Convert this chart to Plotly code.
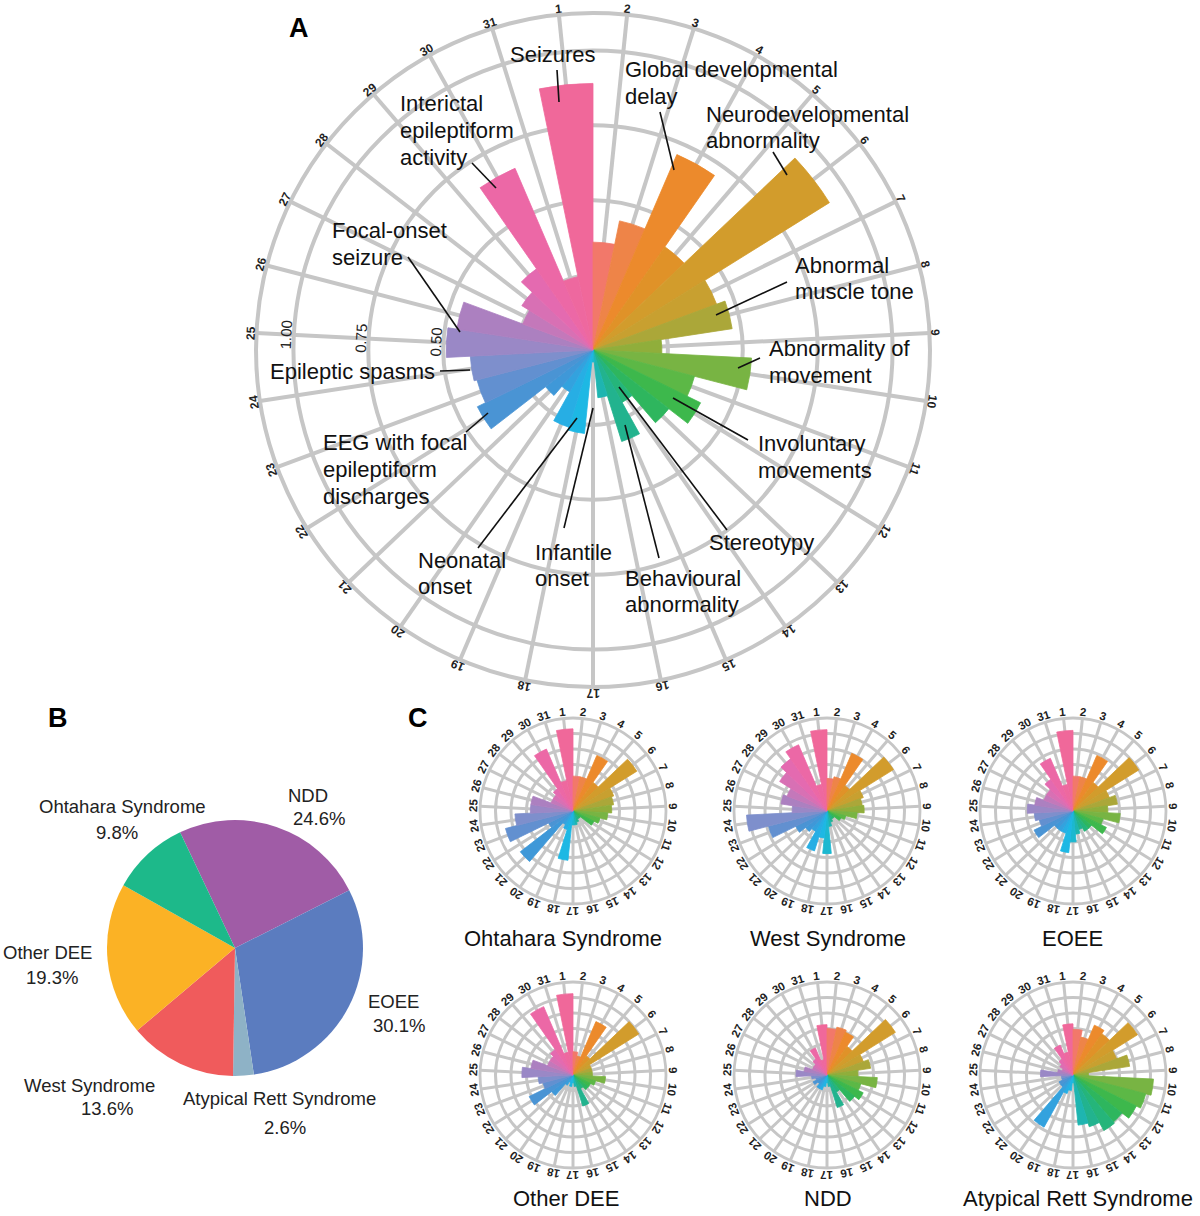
import math
import plotly.graph_objects as go

W, H = 1200, 1216
FONT = "Liberation Sans, Arial, sans-serif"

# ---------------- data ----------------
categories = [str(i) for i in range(1, 32)]

main_values = [0.89, 0.36, 0.44, 0.71, 0.42, 0.93, 0.44, 0.47, 0.23, 0.53,
               0.35, 0.40, 0.32, 0.20, 0.32, 0.16, 0.04, 0.28, 0.27, 0.16,
               0.20, 0.43, 0.40, 0.41, 0.49, 0.46, 0.25, 0.28, 0.33, 0.66, 0.25]
main_radial_ticks = [0.25, 0.50, 0.75, 1.00]
main_radial_labels = ["", "0.50", "0.75", "1.00"]

ohtahara_values = [1.06, 0.45, 0.45, 0.78, 0.45, 0.97, 0.56, 0.53, 0.50, 0.45,
                   0.36, 0.30, 0.12, 0.12, 0.15, 0.18, 0.18, 0.64, 0.25, 0.20,
                   0.86, 0.35, 0.90, 0.75, 0.55, 0.55, 0.30, 0.30, 0.35, 0.87, 0.40]
west_values = [1.05, 0.42, 0.45, 0.81, 0.40, 1.01, 0.50, 0.46, 0.48, 0.39,
               0.25, 0.20, 0.12, 0.12, 0.15, 0.20, 0.55, 0.35, 0.54, 0.30,
               0.35, 0.45, 0.78, 1.04, 0.45, 0.60, 0.55, 0.72, 0.82, 0.93, 0.35]
eoee_values = [1.04, 0.45, 0.45, 0.78, 0.45, 1.00, 0.50, 0.58, 0.45, 0.61,
               0.40, 0.48, 0.30, 0.30, 0.25, 0.30, 0.40, 0.54, 0.30, 0.30,
               0.30, 0.56, 0.45, 0.50, 0.59, 0.50, 0.40, 0.40, 0.50, 0.74, 0.35]
other_dee_values = [1.05, 0.30, 0.25, 0.75, 0.30, 1.00, 0.25, 0.25, 0.25, 0.42,
                    0.30, 0.25, 0.25, 0.20, 0.42, 0.15, 0.10, 0.15, 0.10, 0.15,
                    0.35, 0.63, 0.40, 0.45, 0.66, 0.55, 0.35, 0.35, 0.40, 0.96, 0.30]
ndd_values = [0.65, 0.60, 0.63, 0.60, 0.45, 1.04, 0.50, 0.57, 0.40, 0.65,
              0.45, 0.52, 0.45, 0.25, 0.44, 0.15, 0.10, 0.15, 0.20, 0.20,
              0.15, 0.20, 0.15, 0.20, 0.40, 0.30, 0.20, 0.20, 0.25, 0.38, 0.20]
rett_values = [0.66, 0.59, 0.50, 0.70, 0.65, 0.98, 0.60, 0.74, 0.20, 1.04,
               0.97, 0.91, 0.80, 0.82, 0.70, 0.65, 0.10, 0.20, 0.25, 0.77,
               0.20, 0.20, 0.15, 0.15, 0.42, 0.20, 0.15, 0.20, 0.25, 0.42, 0.30]
small_radial_ticks = [0.2, 0.4, 0.6, 0.8, 1.0]

small_names = ["Ohtahara Syndrome", "West Syndrome", "EOEE",
               "Other DEE", "NDD", "Atypical Rett Syndrome"]

pie_labels = ["NDD", "EOEE", "Atypical Rett Syndrome", "West Syndrome",
              "Other DEE", "Ohtahara Syndrome"]
pie_values = [24.6, 30.1, 2.6, 13.6, 19.3, 9.8]
pie_colors = ["#A05CA6", "#5B7CBF", "#8EB2C6", "#F05B5C", "#FBB225", "#1DB98A"]

# colour of each category (hue wheel)
hue_colors = ["#F0689A", "#F2786A", "#EE8448", "#EC8A2C", "#E09228", "#D29C2C",
              "#C8A030", "#ABA739", "#90AE3B", "#78B443", "#5CB846", "#3DB84C",
              "#2EB65E", "#25B57A", "#22B38E", "#1EB5B0", "#1CB8D0", "#1DB8E4",
              "#27AEE4", "#33A2DE", "#3F98D8", "#4A94D4", "#6290D0", "#7E8FCC",
              "#9A88C6", "#AC80C0", "#C478BA", "#D870B4", "#E46AB0", "#EC68A6",
              "#EE689F"]

# ---------------- helpers ----------------
N = len(categories)
STEP = 360.0 / N
GRID = "#C6C6C6"


def px(x):
    return x / W


def py(y):
    return 1 - y / H


def polar_bars(values, subplot):
    return go.Barpolar(theta=[k * STEP for k in range(N)], r=values,
                       width=[STEP] * N,
                       marker=dict(color=hue_colors,
                                   line=dict(color=hue_colors, width=0.8)),
                       subplot=subplot, hoverinfo="skip", showlegend=False)


def polar_layout(cx, cy, R, rmax, rticks, gw):
    return dict(
        domain=dict(x=[px(cx - R), px(cx + R)], y=[py(cy + R), py(cy - R)]),
        bgcolor="white",
        bargap=0,
        angularaxis=dict(rotation=90 + STEP / 2, direction="clockwise",
                         tickmode="array",
                         tickvals=[k * STEP for k in range(N)],
                         showticklabels=False, ticks="",
                         showgrid=True, gridcolor=GRID, gridwidth=gw,
                         showline=True, linecolor=GRID, linewidth=gw),
        radialaxis=dict(range=[0, rmax], tickmode="array", tickvals=rticks,
                        showticklabels=False, ticks="", showline=False,
                        showgrid=True, gridcolor=GRID, gridwidth=gw),
    )


annotations = []
shapes = []


def text(x, y, s, size, xanchor="center", color="#111", angle=0, bold=False):
    annotations.append(dict(x=px(x), y=py(y), xref="paper", yref="paper",
                            text="<b>%s</b>" % s if bold else s, showarrow=False,
                            textangle=angle, xanchor=xanchor, yanchor="middle",
                            align="left", font=dict(family=FONT, size=size, color=color)))


def angular_labels(cx, cy, rl, size):
    for k, lab in enumerate(categories):
        phi = k * STEP - STEP / 2
        x = cx + rl * math.sin(math.radians(phi))
        y = cy - rl * math.cos(math.radians(phi))
        ang = phi if phi <= 180 else phi - 360
        text(x, y, lab, size, color="#222", angle=ang, bold=True)


# ---------------- figure ----------------
fig = go.Figure()
layout = dict(width=W, height=H, margin=dict(l=0, r=0, t=0, b=0),
              paper_bgcolor="white", plot_bgcolor="white", showlegend=False)

# main chart A
MCX, MCY, MR, MRMAX = 593, 350, 337, 1.125
fig.add_trace(polar_bars(main_values, "polar"))
layout["polar"] = polar_layout(MCX, MCY, MR, MRMAX, main_radial_ticks, 4)
angular_labels(MCX, MCY, 343, 12)

phi25 = 24 * STEP - STEP / 2
for v, lab in zip(main_radial_ticks, main_radial_labels):
    if not lab:
        continue
    rp = MR * v / MRMAX + 8
    text(MCX + rp * math.sin(math.radians(phi25)), MCY - rp * math.cos(math.radians(phi25)),
         lab, 15, color="#222", angle=phi25 - 360)

# small charts C
small_values = [ohtahara_values, west_values, eoee_values,
                other_dee_values, ndd_values, rett_values]
small_centers = [(573, 811), (827, 811), (1073, 811),
                 (573, 1075), (827, 1075), (1073, 1075)]
title_pos = [(563, 938), (828, 938), (1072, 938),
             (566, 1198), (828, 1198), (1078, 1198)]
SR, SRMAX = 93, 1.2
for i, (vals, (cx, cy), name, (tx, ty)) in enumerate(
        zip(small_values, small_centers, small_names, title_pos)):
    key = "polar%d" % (i + 2)
    fig.add_trace(polar_bars(vals, key))
    layout[key] = polar_layout(cx, cy, SR, SRMAX, small_radial_ticks, 2.8)
    angular_labels(cx, cy, 100, 11.5)
    text(tx, ty, name, 22)

# pie chart B
PCX, PCY, PR = 235, 948, 128
fig.add_trace(go.Pie(labels=pie_labels, values=pie_values, sort=False,
                     direction="clockwise", rotation=-25.4,
                     marker=dict(colors=pie_colors, line=dict(width=0)),
                     textinfo="none", hoverinfo="label+percent",
                     domain=dict(x=[px(PCX - PR), px(PCX + PR)],
                                 y=[py(PCY + PR), py(PCY - PR)])))

pie_name_pos = {"NDD": (308, 795), "EOEE": (393, 1001), "Atypical Rett Syndrome": (279, 1098),
                "West Syndrome": (89, 1085), "Other DEE": (47, 952), "Ohtahara Syndrome": (122, 806)}
pie_pct_pos = {"NDD": (319, 818), "EOEE": (399, 1025), "Atypical Rett Syndrome": (285, 1127),
               "West Syndrome": (107, 1108), "Other DEE": (52, 977), "Ohtahara Syndrome": (117, 832)}
for lab, val in zip(pie_labels, pie_values):
    text(*pie_name_pos[lab], lab, 18.5, color="#222")
    text(*pie_pct_pos[lab], "%.1f%%" % val, 18.5, color="#222")

# panel letters
for lab, x, y in [("A", 299, 28), ("B", 58, 718), ("C", 418, 718)]:
    text(x, y, lab, 27, color="#000", bold=True)

# callouts on chart A: (lines, x, first-line y, anchor, line start, line end)
callouts = [
    (["Seizures"], 553, 54, "center", (557, 70), (559, 102)),
    (["Global developmental", "delay"], 623, 70, "left", (660, 112), (674, 170)),
    (["Neurodevelopmental", "abnormality"], 704, 114, "left", (773, 152), (787, 175)),
    (["Abnormal", "muscle tone"], 793, 265, "left", (787, 282), (716, 315)),
    (["Abnormality of", "movement"], 767, 349, "left", (760, 358), (738, 368)),
    (["Involuntary", "movements"], 756, 444, "left", (748, 440), (673, 398)),
    (["Stereotypy"], 707, 542, "left", (727, 530), (619, 387)),
    (["Behavioural", "abnormality"], 623, 578, "left", (659, 558), (625, 425)),
    (["Infantile", "onset"], 533, 552, "left", (564, 528), (593, 408)),
    (["Neonatal", "onset"], 416, 560, "left", (478, 548), (577, 418)),
    (["EEG with focal", "epileptiform", "discharges"], 321, 443, "left", (466, 432), (488, 413)),
    (["Epileptic spasms"], 268, 371, "left", (440, 371), (470, 370)),
    (["Focal-onset", "seizure"], 330, 231, "left", (408, 257), (460, 332)),
    (["Interictal", "epileptiform", "activity"], 398, 104, "left", (472, 163), (496, 188)),
]
for lines, x, y, anchor, p0, p1 in callouts:
    for j, ln in enumerate(lines):
        text(x, y + 26.5 * j, ln, 22, xanchor=anchor)
    shapes.append(dict(type="line", xref="paper", yref="paper",
                       x0=px(p0[0]), y0=py(p0[1]), x1=px(p1[0]), y1=py(p1[1]),
                       line=dict(color="#111", width=1.6)))

layout["annotations"] = annotations
layout["shapes"] = shapes
fig.update_layout(**layout)
fig.write_html("out.html", config={"displayModeBar": False},
               post_script="document.body.style.margin='0px';")
